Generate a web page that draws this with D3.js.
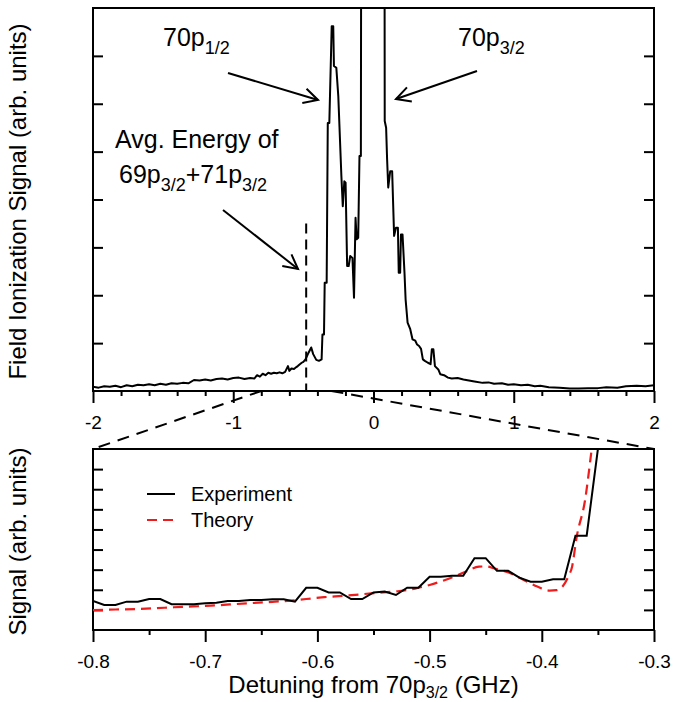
<!DOCTYPE html>
<html>
<head>
<meta charset="utf-8">
<script src="https://cdn.jsdelivr.net/npm/d3@7"></script>
<style>
    body { margin: 0; background: #fff; }
    svg { display: block; }
    text { font-family: "Liberation Sans", Arial, Helvetica, sans-serif; fill: #000; }
</style>
</head>
<body>
<svg id="chart" width="673" height="702"></svg>
<script>
// overview scan (GHz, arb. units)
const overviewDetuning = [
    -2.00, -1.96, -1.92, -1.88, -1.84, -1.80, -1.76, -1.72, -1.68, -1.64,
    -1.60, -1.56, -1.52, -1.48, -1.44, -1.40, -1.36, -1.32, -1.28, -1.24,
    -1.20, -1.16, -1.12, -1.08, -1.04, -1.00, -0.96, -0.92, -0.88, -0.85,
    -0.83, -0.81, -0.79, -0.77, -0.75, -0.73, -0.71, -0.69, -0.67, -0.65,
    -0.63, -0.61, -0.60, -0.585, -0.567, -0.55, -0.54, -0.525, -0.512, -0.50,
    -0.485, -0.463, -0.444, -0.430, -0.408, -0.389, -0.370, -0.364, -0.353, -0.348,
    -0.334, -0.326, -0.315, -0.298, -0.287, -0.282, -0.265, -0.251, -0.229, -0.219,
    -0.208, -0.199, -0.188, -0.177, -0.166, -0.150, -0.139, -0.128, -0.120, -0.109,
    -0.100, -0.090, -0.079, 0.000, 0.072, 0.080, 0.090, 0.097, 0.105, 0.119,
    0.133, 0.147, 0.160, 0.174, 0.180, 0.190, 0.196, 0.207, 0.221, 0.229,
    0.243, 0.262, 0.278, 0.298, 0.311, 0.325, 0.339, 0.352, 0.366, 0.388,
    0.407, 0.416, 0.427, 0.438, 0.462, 0.476, 0.503, 0.531, 0.558, 0.600,
    0.641, 0.680, 0.720, 0.778, 0.820, 0.860, 0.915, 0.960, 1.000, 1.052,
    1.100, 1.150, 1.190, 1.250, 1.327, 1.400, 1.464, 1.530, 1.601, 1.660,
    1.739, 1.800, 1.876, 1.940, 2.000
];
const overviewSignal = [
    0.09, 0.07, 0.10, 0.09, 0.11, 0.08, 0.12, 0.10, 0.13, 0.12,
    0.14, 0.12, 0.15, 0.13, 0.16, 0.15, 0.17, 0.16, 0.23, 0.22,
    0.24, 0.22, 0.25, 0.26, 0.24, 0.27, 0.28, 0.25, 0.27, 0.26,
    0.33, 0.30, 0.36, 0.33, 0.38, 0.36, 0.38, 0.37, 0.39, 0.37,
    0.40, 0.52, 0.42, 0.47, 0.46, 0.50, 0.52, 0.56, 0.59, 0.61,
    0.66, 0.80, 0.91, 0.77, 0.65, 0.63, 0.66, 1.18, 1.18, 2.26,
    2.26, 5.60, 5.60, 7.62, 7.62, 6.79, 6.75, 6.16, 4.49, 3.86,
    4.38, 4.35, 2.61, 2.61, 2.82, 2.78, 1.95, 3.62, 3.17, 3.20,
    4.91, 4.91, 30.0, 40.0, 30.0, 5.64, 5.50, 4.84, 4.25, 4.59,
    4.59, 3.24, 3.41, 3.41, 2.47, 2.47, 3.27, 3.27, 2.47, 1.91,
    1.43, 1.29, 1.08, 1.05, 0.97, 0.94, 0.88, 0.66, 0.63, 0.59,
    0.56, 0.87, 0.87, 0.52, 0.45, 0.35, 0.33, 0.28, 0.26, 0.27,
    0.24, 0.22, 0.20, 0.17, 0.18, 0.15, 0.16, 0.13, 0.14, 0.12,
    0.13, 0.10, 0.11, 0.08, 0.07, 0.05, 0.05, 0.06, 0.06, 0.08,
    0.07, 0.10, 0.11, 0.10, 0.12
];

// zoomed scan, experiment
const zoomDetuning = [
    -0.80, -0.79, -0.78, -0.77, -0.76, -0.75, -0.74, -0.73, -0.72, -0.71,
    -0.70, -0.69, -0.68, -0.67, -0.66, -0.65, -0.64, -0.63, -0.62, -0.61,
    -0.60, -0.59, -0.58, -0.57, -0.56, -0.55, -0.54, -0.53, -0.52, -0.51,
    -0.50, -0.49, -0.48, -0.47, -0.46, -0.45, -0.44, -0.43, -0.42, -0.41,
    -0.40, -0.39, -0.38, -0.37, -0.36, -0.35, -0.34
];
const experimentSignal = [
    1.44, 1.24, 1.24, 1.41, 1.41, 1.54, 1.54, 1.28, 1.28, 1.28,
    1.33, 1.36, 1.44, 1.44, 1.49, 1.49, 1.53, 1.53, 1.41, 2.10,
    2.10, 1.87, 1.87, 1.54, 1.54, 1.87, 1.91, 1.74, 2.10, 2.10,
    2.65, 2.65, 2.70, 2.70, 3.57, 3.57, 2.94, 2.94, 2.60, 2.40,
    2.40, 2.52, 2.52, 4.69, 4.69, 9.00, 9.00
];

// theory curve
const theoryDetuning = [
    -0.800, -0.780, -0.762, -0.745, -0.728, -0.711, -0.695, -0.678, -0.661, -0.643,
    -0.624, -0.610, -0.594, -0.577, -0.560, -0.544, -0.527, -0.513, -0.500, -0.488,
    -0.476, -0.466, -0.456, -0.449, -0.443, -0.436, -0.429, -0.421, -0.413, -0.404,
    -0.393, -0.387, -0.381, -0.376, -0.373, -0.369, -0.3615, -0.3555, -0.352
];
const theorySignal = [
    0.99, 1.02, 1.04, 1.08, 1.13, 1.17, 1.21, 1.27, 1.33, 1.39,
    1.46, 1.54, 1.63, 1.70, 1.78, 1.86, 1.94, 2.06, 2.24, 2.45,
    2.70, 2.95, 3.15, 3.16, 3.07, 2.97, 2.85, 2.63, 2.40, 2.16,
    1.96, 1.98, 2.20, 2.70, 3.15, 4.60, 6.44, 9.00, 10.50
];

const overviewTicks = [-2, -1, 0, 1, 2];
const zoomTicks = [-0.8, -0.7, -0.6, -0.5, -0.4, -0.3];
const avgEnergy = -0.48;

const svg = d3.select('#chart');
const FONT_TICK = 19;

const topBox = { left: 93, right: 654, top: 8, bottom: 391 };
const botBox = { left: 93, right: 654, top: 449, bottom: 630 };

const xTop = d3.scaleLinear().domain([-2, 2]).range([topBox.left, topBox.right]);
const yTop = d3.scaleLinear().domain([0, 8]).range([topBox.bottom, topBox.top]);
const xBot = d3.scaleLinear().domain([-0.8, -0.3]).range([botBox.left, botBox.right]);
const yBot = d3.scaleLinear().domain([0, 9]).range([botBox.bottom, botBox.top]);

const defs = svg.append('defs');
defs.append('clipPath').attr('id', 'clipTop')
    .append('rect')
    .attr('x', topBox.left).attr('y', topBox.top)
    .attr('width', topBox.right - topBox.left).attr('height', topBox.bottom - topBox.top);
defs.append('clipPath').attr('id', 'clipBot')
    .append('rect')
    .attr('x', botBox.left).attr('y', botBox.top)
    .attr('width', botBox.right - botBox.left).attr('height', botBox.bottom - botBox.top);

function styleAxis(g) {
    g.select('.domain').remove();
    g.selectAll('line').attr('stroke', '#000').attr('stroke-width', 2);
    g.selectAll('text').style('font-size', FONT_TICK + 'px')
        .attr('font-family', '"Liberation Sans", Arial, sans-serif');
}

function drawPanel(p, x, y, majorX, minorX, yTicks) {
    // x ticks outward, major + minor
    svg.append('g')
        .attr('transform', 'translate(0,' + p.bottom + ')')
        .call(d3.axisBottom(x).tickValues(minorX).tickSize(5).tickFormat(''))
        .call(styleAxis);
    svg.append('g')
        .attr('transform', 'translate(0,' + p.bottom + ')')
        .call(d3.axisBottom(x).tickValues(majorX).tickSize(12).tickPadding(13)
            .tickFormat(d => String(d)))
        .call(styleAxis);
    // y ticks pointing inside, both sides
    svg.append('g')
        .attr('transform', 'translate(' + p.left + ',0)')
        .call(d3.axisLeft(y).tickValues(yTicks).tickSize(-10).tickFormat(''))
        .call(styleAxis);
    svg.append('g')
        .attr('transform', 'translate(' + p.right + ',0)')
        .call(d3.axisRight(y).tickValues(yTicks).tickSize(-10).tickFormat(''))
        .call(styleAxis);
    svg.append('rect')
        .attr('x', p.left).attr('y', p.top)
        .attr('width', p.right - p.left).attr('height', p.bottom - p.top)
        .attr('fill', 'none').attr('stroke', '#000').attr('stroke-width', 2);
}

// top panel
const topMinor = xTop.ticks(20).filter(d => !overviewTicks.includes(d));
drawPanel(topBox, xTop, yTop, overviewTicks, topMinor, [1, 2, 3, 4, 5, 6, 7]);

svg.append('path')
    .datum(d3.zip(overviewDetuning, overviewSignal))
    .attr('clip-path', 'url(#clipTop)')
    .attr('fill', 'none').attr('stroke', '#000').attr('stroke-width', 2)
    .attr('stroke-linejoin', 'round')
    .attr('d', d3.line().x(d => xTop(d[0])).y(d => yTop(d[1])));

// avg energy marker
svg.append('line')
    .attr('x1', xTop(avgEnergy)).attr('x2', xTop(avgEnergy))
    .attr('y1', yTop(3.5)).attr('y2', topBox.bottom)
    .attr('stroke', '#000').attr('stroke-width', 2)
    .attr('stroke-dasharray', '10,6');

// bottom panel
const botMinor = xBot.ticks(10).filter(d => !zoomTicks.some(t => Math.abs(t - d) < 1e-9));
drawPanel(botBox, xBot, yBot, zoomTicks, botMinor, [1, 2, 3, 4, 5, 6, 7, 8]);

svg.append('path')
    .datum(d3.zip(theoryDetuning, theorySignal))
    .attr('clip-path', 'url(#clipBot)')
    .attr('fill', 'none').attr('stroke', '#ee1c1c').attr('stroke-width', 2.2)
    .attr('stroke-dasharray', '10,6')
    .attr('d', d3.line().curve(d3.curveMonotoneX).x(d => xBot(d[0])).y(d => yBot(d[1])));

svg.append('path')
    .datum(d3.zip(zoomDetuning, experimentSignal))
    .attr('clip-path', 'url(#clipBot)')
    .attr('fill', 'none').attr('stroke', '#000').attr('stroke-width', 2)
    .attr('d', d3.line().x(d => xBot(d[0])).y(d => yBot(d[1])));

// zoom guide lines
const guide = svg.append('g')
    .attr('stroke', '#000').attr('stroke-width', 2).attr('stroke-dasharray', '12,8');
guide.append('line')
    .attr('x1', xTop(-0.8)).attr('y1', topBox.bottom)
    .attr('x2', botBox.left).attr('y2', botBox.top);
guide.append('line')
    .attr('x1', xTop(-0.3)).attr('y1', topBox.bottom)
    .attr('x2', botBox.right).attr('y2', botBox.top);

// legend
const legend = svg.append('g').style('font-size', '20px');
legend.append('line').attr('x1', 147).attr('x2', 175).attr('y1', 494).attr('y2', 494)
    .attr('stroke', '#000').attr('stroke-width', 2);
legend.append('text').attr('x', 191).attr('y', 501).text('Experiment');
legend.append('line').attr('x1', 147).attr('x2', 175).attr('y1', 520).attr('y2', 520)
    .attr('stroke', '#ee1c1c').attr('stroke-width', 2.2).attr('stroke-dasharray', '10,6');
legend.append('text').attr('x', 191).attr('y', 527).text('Theory');

// text with subscripts
function subLabel(x, y, parts, size, subSize, shift) {
    const t = svg.append('text').attr('x', x).attr('y', y).style('font-size', size + 'px');
    const dy = size * (shift || 0.32);
    let shifted = false;
    parts.forEach(([str, isSub]) => {
        const span = t.append('tspan').text(str);
        if (isSub && !shifted) { span.attr('dy', dy).style('font-size', subSize + 'px'); shifted = true; }
        else if (!isSub && shifted) { span.attr('dy', -dy); shifted = false; }
        else if (isSub) { span.style('font-size', subSize + 'px'); }
    });
    return t;
}

subLabel(163, 46, [['70p', false], ['1/2', true]], 25, 18);
subLabel(458, 46, [['70p', false], ['3/2', true]], 25, 18);
svg.append('text').attr('x', 115).attr('y', 148).style('font-size', '25px').text('Avg. Energy of');
subLabel(119, 183, [['69p', false], ['3/2', true], ['+71p', false], ['3/2', true]], 25, 18);

function arrow(x1, y1, x2, y2) {
    const a = Math.atan2(y2 - y1, x2 - x1);
    const len = 16, spread = Math.PI / 6.5;
    const g = svg.append('g').attr('stroke', '#000').attr('stroke-width', 2).attr('fill', 'none');
    g.append('line').attr('x1', x1).attr('y1', y1).attr('x2', x2).attr('y2', y2);
    g.append('path').attr('d',
        'M' + (x2 - len * Math.cos(a - spread)) + ',' + (y2 - len * Math.sin(a - spread)) +
        'L' + x2 + ',' + y2 +
        'L' + (x2 - len * Math.cos(a + spread)) + ',' + (y2 - len * Math.sin(a + spread)));
}
arrow(228, 73, 318, 100);
arrow(477, 71, 396, 99);
arrow(223, 210, 298, 269);

// axis titles
svg.append('text')
    .attr('transform', 'translate(26,' + ((topBox.top + topBox.bottom) / 2 + 2) + ') rotate(-90)')
    .attr('text-anchor', 'middle').style('font-size', '24px')
    .text('Field Ionization Signal (arb. units)');
svg.append('text')
    .attr('transform', 'translate(26,' + ((botBox.top + botBox.bottom) / 2 + 2) + ') rotate(-90)')
    .attr('text-anchor', 'middle').style('font-size', '24px')
    .text('Signal (arb. units)');
subLabel((botBox.left + botBox.right) / 2, 693,
    [['Detuning from 70p', false], ['3/2', true], [' (GHz)', false]], 24, 16, 0.2)
    .attr('text-anchor', 'middle');
</script>
</body>
</html>
